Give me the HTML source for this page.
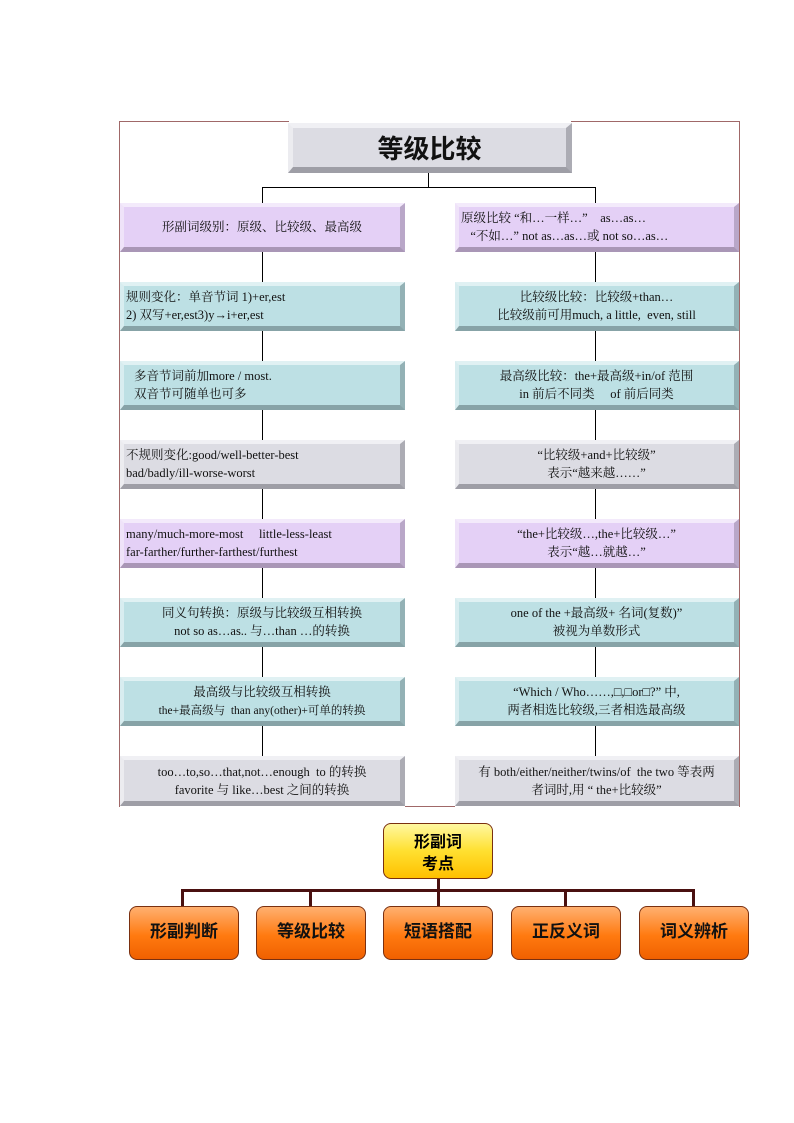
<!DOCTYPE html>
<html><head><meta charset="utf-8"><style>
body{margin:0;width:794px;height:1123px;background:#fff;position:relative;font-family:"Liberation Serif","Noto Serif CJK SC","Noto Sans CJK SC",serif;}
.a{position:absolute;box-sizing:border-box;}
.bx{position:absolute;box-sizing:border-box;border-style:solid;border-width:4px 5px 5px 4px;display:flex;align-items:center;justify-content:center;text-align:center;font-size:12.5px;line-height:18px;color:#111;white-space:nowrap;}
.p{background:#e4d0f6;border-color:#f3eafb #b9a7c8 #a996b6 #efe3f9;}
.t{background:#bde0e4;border-color:#e0f1f3 #93b1b5 #87a3a7 #d8edf0;}
.g{background:#dcdce3;border-color:#f0f0f4 #acacb4 #9e9ea6 #ececf0;}
.L{left:120px;width:285px}.R{left:455px;width:284px}
.vl{position:absolute;width:1px;background:#000;}
.fr{position:absolute;background:#a06868;}
.o{position:absolute;box-sizing:border-box;width:110px;height:54px;top:906px;border:1px solid #7a3010;border-radius:8px;background:linear-gradient(#ffb070,#ff7a10 55%,#f06000);display:flex;align-items:center;justify-content:center;font-family:"Noto Sans CJK SC",sans-serif;font-weight:bold;font-size:17px;color:#111;padding-bottom:8px}
.h{position:absolute;background:#4a1010;}
</style></head><body>
<div class="fr" style="left:119px;top:121px;width:1px;height:686px"></div>
<div class="fr" style="left:739px;top:121px;width:1px;height:686px"></div>
<div class="fr" style="left:119px;top:121px;width:170px;height:1px"></div>
<div class="fr" style="left:571px;top:121px;width:169px;height:1px"></div>
<div class="fr" style="left:405px;top:806px;width:50px;height:1px"></div>
<div class="bx g" style="left:288px;top:123px;width:284px;height:50px;font-family:'Noto Sans CJK SC',sans-serif;font-weight:bold;font-size:26px;border-width:5px 6px 6px 5px"><div>等级比较</div></div>
<div class="vl" style="left:428px;top:173px;height:14px"></div>
<div class="a" style="left:262px;top:187px;width:334px;height:1px;background:#000"></div>
<div class="vl" style="left:262px;top:187px;height:16px"></div>
<div class="vl" style="left:595px;top:187px;height:16px"></div>
<div class="vl" style="left:262px;top:251px;height:505px"></div>
<div class="vl" style="left:595px;top:251px;height:505px"></div>

<div class="bx p L" style="top:203px;height:49px"><div>形副词级别：原级、比较级、最高级</div></div>
<div class="bx p R" style="top:203px;height:49px;justify-content:flex-start;text-align:left;padding-left:2px"><div>原级比较 “和…一样…”&nbsp;&nbsp;&nbsp; as…as…<br>&nbsp;&nbsp;&nbsp;“不如…” not as…as…或 not so…as…</div></div>
<div class="bx t L" style="top:282px;height:49px;justify-content:flex-start;text-align:left;padding-left:2px"><div>规则变化：单音节词 1)+er,est<br>2) 双写+er,est3)y→i+er,est</div></div>
<div class="bx t R" style="top:282px;height:49px"><div>比较级比较：比较级+than…<br>比较级前可用much, a little,&nbsp; even, still</div></div>
<div class="bx t L" style="top:361px;height:49px;justify-content:flex-start;text-align:left;padding-left:10px"><div>多音节词前加more / most.<br>双音节可随单也可多</div></div>
<div class="bx t R" style="top:361px;height:49px"><div>最高级比较：the+最高级+in/of 范围<br>in 前后不同类&nbsp;&nbsp;&nbsp;&nbsp; of 前后同类</div></div>
<div class="bx g L" style="top:440px;height:49px;justify-content:flex-start;text-align:left;padding-left:2px"><div>不规则变化:good/well-better-best<br>bad/badly/ill-worse-worst</div></div>
<div class="bx g R" style="top:440px;height:49px"><div>“比较级+and+比较级”<br>表示“越来越……”</div></div>
<div class="bx p L" style="top:519px;height:49px;justify-content:flex-start;text-align:left;padding-left:2px"><div>many/much-more-most&nbsp;&nbsp;&nbsp;&nbsp; little-less-least<br>far-farther/further-farthest/furthest</div></div>
<div class="bx p R" style="top:519px;height:49px"><div>“the+比较级…,the+比较级…”<br>表示“越…就越…”</div></div>
<div class="bx t L" style="top:598px;height:49px"><div>同义句转换：原级与比较级互相转换<br>not so as…as.. 与…than …的转换</div></div>
<div class="bx t R" style="top:598px;height:49px"><div>one of the +最高级+ 名词(复数)”<br>被视为单数形式</div></div>
<div class="bx t L" style="top:677px;height:49px"><div>最高级与比较级互相转换<br><span style="font-size:11.5px">the+最高级与&nbsp; than any(other)+可单的转换</span></div></div>
<div class="bx t R" style="top:677px;height:49px"><div>“Which / Who……,□,□or□?” 中,<br>两者相选比较级,三者相选最高级</div></div>
<div class="bx g L" style="top:756px;height:50px"><div>too…to,so…that,not…enough&nbsp; to 的转换<br>favorite 与 like…best 之间的转换</div></div>
<div class="bx g R" style="top:756px;height:50px"><div>有 both/either/neither/twins/of&nbsp; the two 等表两<br>者词时,用 “ the+比较级”</div></div>

<div class="a" style="left:383px;top:823px;width:110px;height:56px;border:1px solid #7a3010;border-radius:8px;background:linear-gradient(#fff8a0,#ffe030 50%,#ffc000);display:flex;align-items:center;justify-content:center;text-align:center;font-family:'Noto Sans CJK SC',sans-serif;font-weight:bold;font-size:16px;line-height:22px"><div>形副词<br>考点</div></div>
<div class="h" style="left:437px;top:879px;width:3px;height:27px"></div>
<div class="h" style="left:181px;top:889px;width:514px;height:3px"></div>
<div class="h" style="left:181px;top:889px;width:3px;height:17px"></div>
<div class="h" style="left:309px;top:889px;width:3px;height:17px"></div>
<div class="h" style="left:564px;top:889px;width:3px;height:17px"></div>
<div class="h" style="left:692px;top:889px;width:3px;height:17px"></div>
<div class="o" style="left:129px">形副判断</div>
<div class="o" style="left:256px">等级比较</div>
<div class="o" style="left:383px">短语搭配</div>
<div class="o" style="left:511px">正反义词</div>
<div class="o" style="left:639px">词义辨析</div>
</body></html>
